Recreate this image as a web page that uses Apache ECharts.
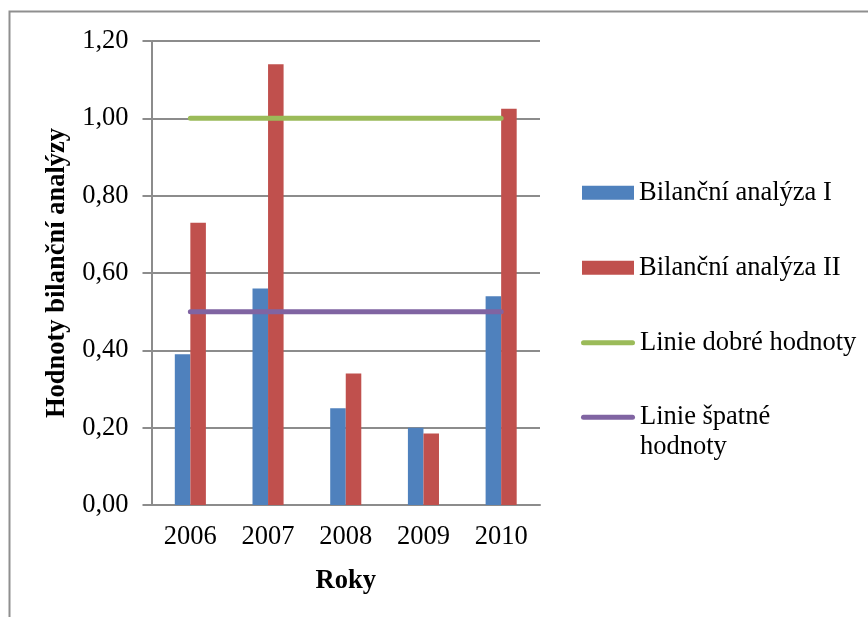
<!DOCTYPE html>
<html>
<head>
<meta charset="utf-8">
<script src="https://cdn.jsdelivr.net/npm/echarts@6/dist/echarts.min.js"></script>
<style>
  html, body { margin: 0; padding: 0; background: #fff; }
  #chart { width: 868px; height: 617px; }
</style>
</head>
<body>
<div id="chart"></div>
<script>
// Years on the category axis
const years = ['2006', '2007', '2008', '2009', '2010'];
// Balance analysis results
const analysisI = [0.39, 0.56, 0.25, 0.20, 0.54];
const analysisII = [0.73, 1.14, 0.34, 0.185, 1.025];
// Reference levels
const goodLevel = [1.00, 1.00, 1.00, 1.00, 1.00];
const badLevel = [0.50, 0.50, 0.50, 0.50, 0.50];
// Value axis ticks
const yMin = 0, yMax = 1.2, yStep = 0.2;

const seriesNames = ['Bilanční analýza I', 'Bilanční analýza II', 'Linie dobré hodnoty', 'Linie špatné hodnoty'];
const colors = ['#4F81BD', '#C0504D', '#9BBB59', '#8064A2'];

const serif = '"Liberation Serif", "Times New Roman", serif';
const fontSize = 26.5;
const gridColor = '#8c8c8c';
// pill-shaped legend icon for the level lines
const pillIcon = 'path://M2.5,0 H51.5 A2.5,2.5 0 0 1 51.5,5 H2.5 A2.5,2.5 0 0 1 2.5,0 Z';

const chart = echarts.init(document.getElementById('chart'), null, { renderer: 'canvas' });

function legendAt(name, top, opts) {
  return Object.assign({
    data: [{ name: name }],
    left: 582,
    top: top,
    orient: 'vertical',
    padding: 0,
    itemWidth: 52,
    itemHeight: 14,
    icon: 'rect',
    selectedMode: false,
    textStyle: { fontFamily: serif, fontSize: fontSize, color: '#000', lineHeight: 29.5 }
  }, opts || {});
}

chart.setOption({
  animation: false,
  backgroundColor: '#fff',
  color: colors,
  textStyle: { fontFamily: serif },
  grid: { left: 151.5, right: 328, top: 41, bottom: 112, containLabel: false },
  legend: [
    legendAt(seriesNames[0], 178),
    legendAt(seriesNames[1], 253),
    legendAt(seriesNames[2], 328, { icon: pillIcon, itemWidth: 54, itemHeight: 5, left: 581 }),
    legendAt(seriesNames[3], 373, {
      icon: pillIcon, itemWidth: 54, itemHeight: 5, left: 581,
      formatter: function () { return '\nLinie špatné\nhodnoty'; }
    })
  ],
  xAxis: {
    type: 'category',
    data: years,
    boundaryGap: true,
    name: 'Roky',
    nameLocation: 'middle',
    nameGap: 63,
    nameTextStyle: { fontFamily: serif, fontSize: fontSize, fontWeight: 'bold', color: '#000' },
    axisLine: { show: true, lineStyle: { color: gridColor, width: 2 } },
    axisTick: { show: false },
    axisLabel: { fontFamily: serif, fontSize: fontSize, color: '#000', margin: 19 }
  },
  yAxis: {
    type: 'value',
    min: yMin,
    max: yMax,
    interval: yStep,
    name: 'Hodnoty bilanční analýzy',
    nameLocation: 'middle',
    nameGap: 81,
    nameRotate: 90,
    nameTextStyle: { fontFamily: serif, fontSize: fontSize, fontWeight: 'bold', color: '#000' },
    axisLine: { show: true, lineStyle: { color: gridColor, width: 2 } },
    axisTick: { show: true, inside: false, length: 9, lineStyle: { color: gridColor, width: 2 } },
    splitLine: { show: true, lineStyle: { color: gridColor, width: 2 } },
    axisLabel: {
      fontFamily: serif, fontSize: fontSize, color: '#000', margin: 23,
      formatter: function (v) { return v.toFixed(2).replace('.', ','); }
    }
  },
  graphic: [{
    type: 'rect',
    shape: { x: 9.5, y: 11.5, width: 1000, height: 1000 },
    style: { fill: 'none', stroke: '#8f8f8f', lineWidth: 2 },
    silent: true,
    z: -1
  }],
  series: [
    {
      name: seriesNames[0], type: 'bar', data: analysisI,
      barGap: '0%', barCategoryGap: '60%',
      itemStyle: { color: colors[0] }
    },
    {
      name: seriesNames[1], type: 'bar', data: analysisII,
      barGap: '0%', barCategoryGap: '60%',
      itemStyle: { color: colors[1] }
    },
    {
      name: seriesNames[2], type: 'line', data: goodLevel,
      symbol: 'none', z: 5,
      lineStyle: { color: colors[2], width: 5, cap: 'round' },
      itemStyle: { color: colors[2] }
    },
    {
      name: seriesNames[3], type: 'line', data: badLevel,
      symbol: 'none', z: 5,
      lineStyle: { color: colors[3], width: 5, cap: 'round' },
      itemStyle: { color: colors[3] }
    }
  ]
});
</script>
</body>
</html>
